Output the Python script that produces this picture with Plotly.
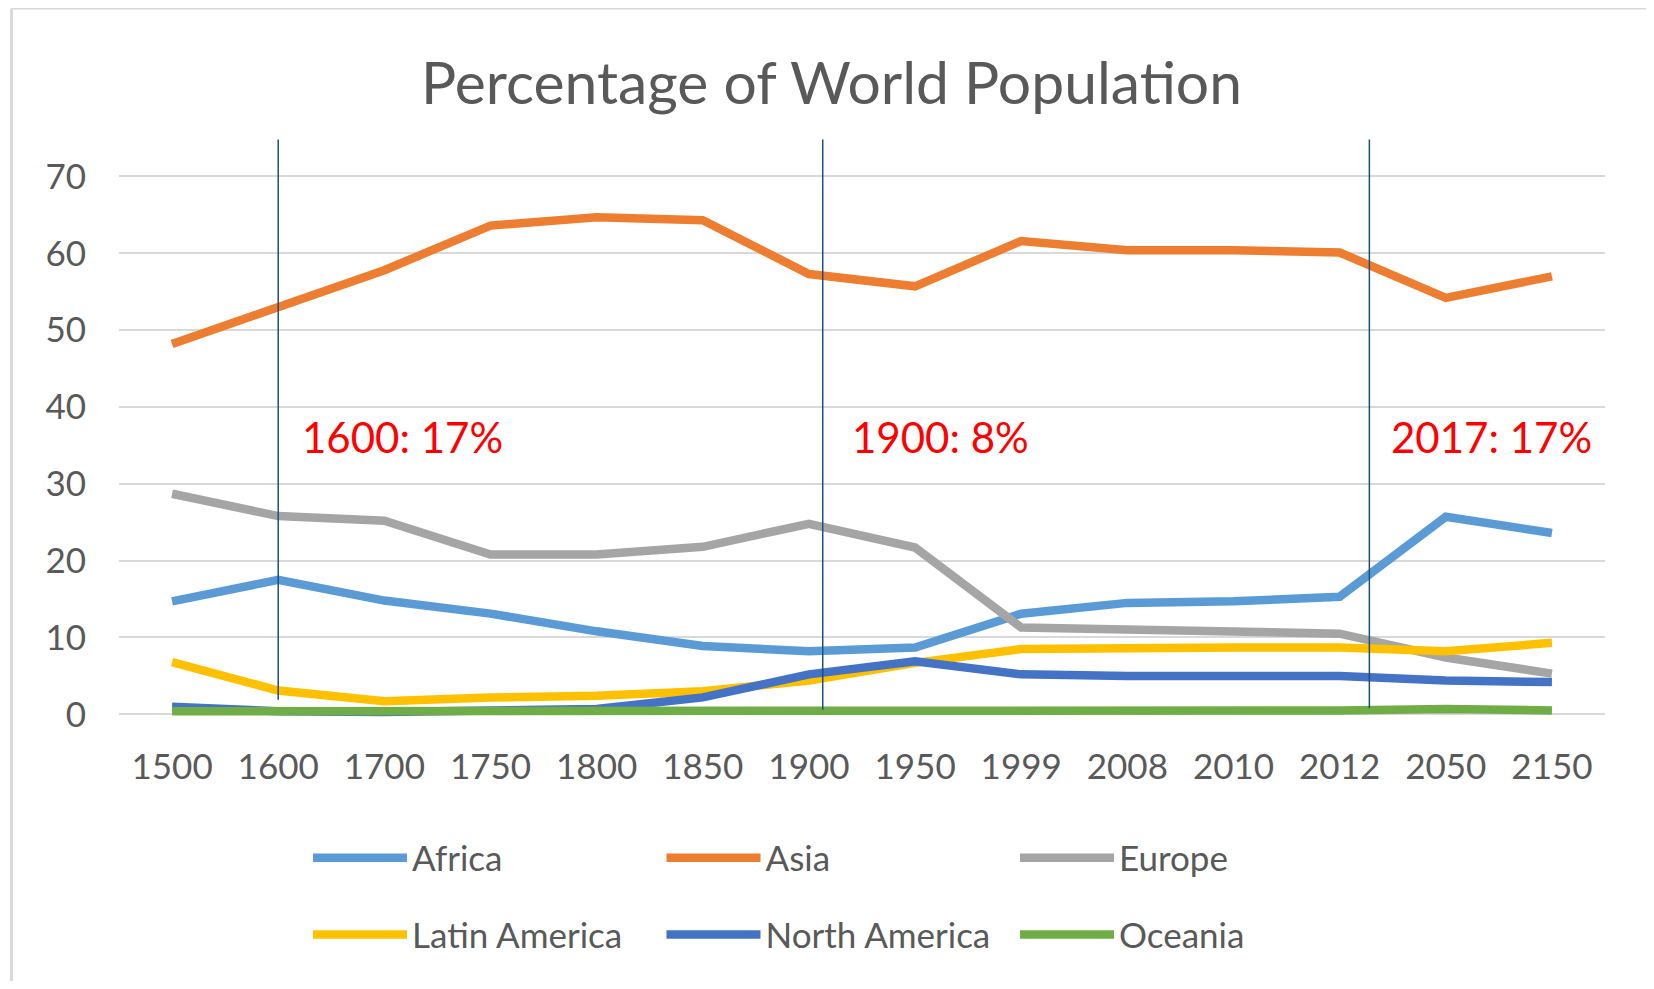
import plotly.graph_objects as go

# ---------------- data ----------------
years = ["1500", "1600", "1700", "1750", "1800", "1850", "1900", "1950",
         "1999", "2008", "2010", "2012", "2050", "2150"]

africa        = [14.7, 17.5, 14.8, 13.1, 10.8, 8.9, 8.2, 8.7, 13.1, 14.5, 14.7, 15.3, 25.7, 23.6]
asia          = [48.2, 53.1, 57.8, 63.6, 64.7, 64.3, 57.3, 55.7, 61.6, 60.4, 60.4, 60.1, 54.2, 57.0]
europe        = [28.7, 25.8, 25.2, 20.8, 20.8, 21.8, 24.8, 21.7, 11.3, 11.1, 10.8, 10.5, 7.4, 5.3]
latin_america = [6.8, 3.1, 1.7, 2.2, 2.4, 3.0, 4.4, 6.7, 8.5, 8.7, 8.7, 8.7, 8.2, 9.3]
north_america = [1.0, 0.4, 0.3, 0.4, 0.7, 2.2, 5.2, 6.9, 5.2, 5.0, 5.0, 5.0, 4.4, 4.2]
oceania       = [0.4, 0.4, 0.4, 0.4, 0.3, 0.3, 0.4, 0.5, 0.5, 0.5, 0.5, 0.5, 0.7, 0.5]

series_names = ["Africa", "Asia", "Europe", "Latin America", "North America", "Oceania"]
series_vals = [africa, asia, europe, latin_america, north_america, oceania]
series_colors = ["#5B9BD5", "#ED7D31", "#A5A5A5", "#FFC000", "#4472C4", "#70AD47"]

y_ticks = [0, 10, 20, 30, 40, 50, 60, 70]

# vertical marker lines (category position) and their labels
marker_pos = [1.0, 6.13, 11.28]
marker_bottom = [1.9, 0.6, 0.8]
marker_labels = ["1600: 17%", "1900: 8%", "2017: 17%"]

# ---------------- layout geometry (pixels) ----------------
# the html page body has an 8px margin, so the figure is drawn 8px in/down
OFF = 8
W, H = 1654 - OFF, 989 - 2 * OFF
ML = 119 - OFF
MT = 138.4 - OFF
MR = W - (1605.5 - OFF)
MB = H - (722.1 - OFF)
PW = W - ML - MR
PH = H - MT - MB
FONT = "Lato"
TXT = "#595959"


def px_x(p):  # reference page pixel -> paper x
    return (p - OFF - ML) / PW


def px_y(p):  # reference page pixel -> paper y
    return (H - MB - (p - OFF)) / PH


def cx(p):  # reference page pixel -> container x
    return (p - OFF) / W


def cy(p):  # reference page pixel -> container y
    return 1 - (p - OFF) / H


fig = go.Figure()
for i, (name, vals, col) in enumerate(zip(series_names, series_vals, series_colors)):
    fig.add_trace(go.Scatter(
        x=years, y=vals, name=name, mode="lines",
        line=dict(color=col, width=8.5),
        legend="legend" if i < 3 else "legend2",
        hoverinfo="x+y+name",
    ))

shapes = []
for xp, yb in zip(marker_pos, marker_bottom):
    shapes.append(dict(type="line", xref="x", yref="y", x0=xp, x1=xp, y0=yb, y1=74.8,
                       line=dict(color="#1F4E79", width=1.5), layer="above"))
# outer chart border (left, top, right)
bx0, bx1, by0, by1 = px_x(11.5), px_x(1651.5), px_y(9), px_y(1000)
shapes.append(dict(type="line", xref="paper", yref="paper", x0=bx0, x1=bx0, y0=by1, y1=by0,
                   line=dict(color="#D9D9D9", width=3)))
shapes.append(dict(type="line", xref="paper", yref="paper", x0=bx0, x1=bx1, y0=by0, y1=by0,
                   line=dict(color="#D9D9D9", width=2)))
shapes.append(dict(type="line", xref="paper", yref="paper", x0=bx1, x1=bx1, y0=by1, y1=by0,
                   line=dict(color="#D9D9D9", width=3)))

annotations = []
for lx, txt in zip([300, 850, 1389], marker_labels):
    annotations.append(dict(text=txt, xref="paper", yref="paper", x=px_x(lx), y=px_y(437.5),
                            xanchor="left", yanchor="middle", showarrow=False,
                            font=dict(family=FONT, size=42, color="#FF0000")))

legend_common = dict(orientation="h", xref="container", yref="container",
                     xanchor="left", yanchor="top", bgcolor="rgba(0,0,0,0)",
                     font=dict(family=FONT, size=35, color=TXT),
                     itemwidth=94, entrywidth=244.5, itemclick=False, itemdoubleclick=False)

fig.update_layout(
    width=W, height=H,
    margin=dict(l=ML, r=MR, t=MT, b=MB, pad=0),
    paper_bgcolor="white", plot_bgcolor="white",
    font=dict(family=FONT, color=TXT),
    title=dict(text="Percentage of World Population", x=cx(831.5), xanchor="center",
               xref="container", yref="container", y=cy(83), yanchor="middle",
               font=dict(family=FONT, size=58.8, color=TXT)),
    xaxis=dict(type="category", range=[-0.5, 13.5], showgrid=False, zeroline=False,
               showline=False, ticks="", tickfont=dict(family=FONT, size=35, color=TXT),
               ticklabelstandoff=21, fixedrange=True),
    yaxis=dict(range=[-1, 75], tickvals=y_ticks, showgrid=True, gridcolor="#D9D9D9",
               gridwidth=1.5, zeroline=False, showline=False, ticks="",
               tickfont=dict(family=FONT, size=35, color=TXT), ticklabelstandoff=32,
               fixedrange=True),
    shapes=shapes,
    annotations=annotations,
    legend=dict(x=cx(308), y=cy(828.4), **legend_common),
    legend2=dict(x=cx(308), y=cy(905.3), **legend_common),
    showlegend=True,
)

fig.write_html("out.html")
